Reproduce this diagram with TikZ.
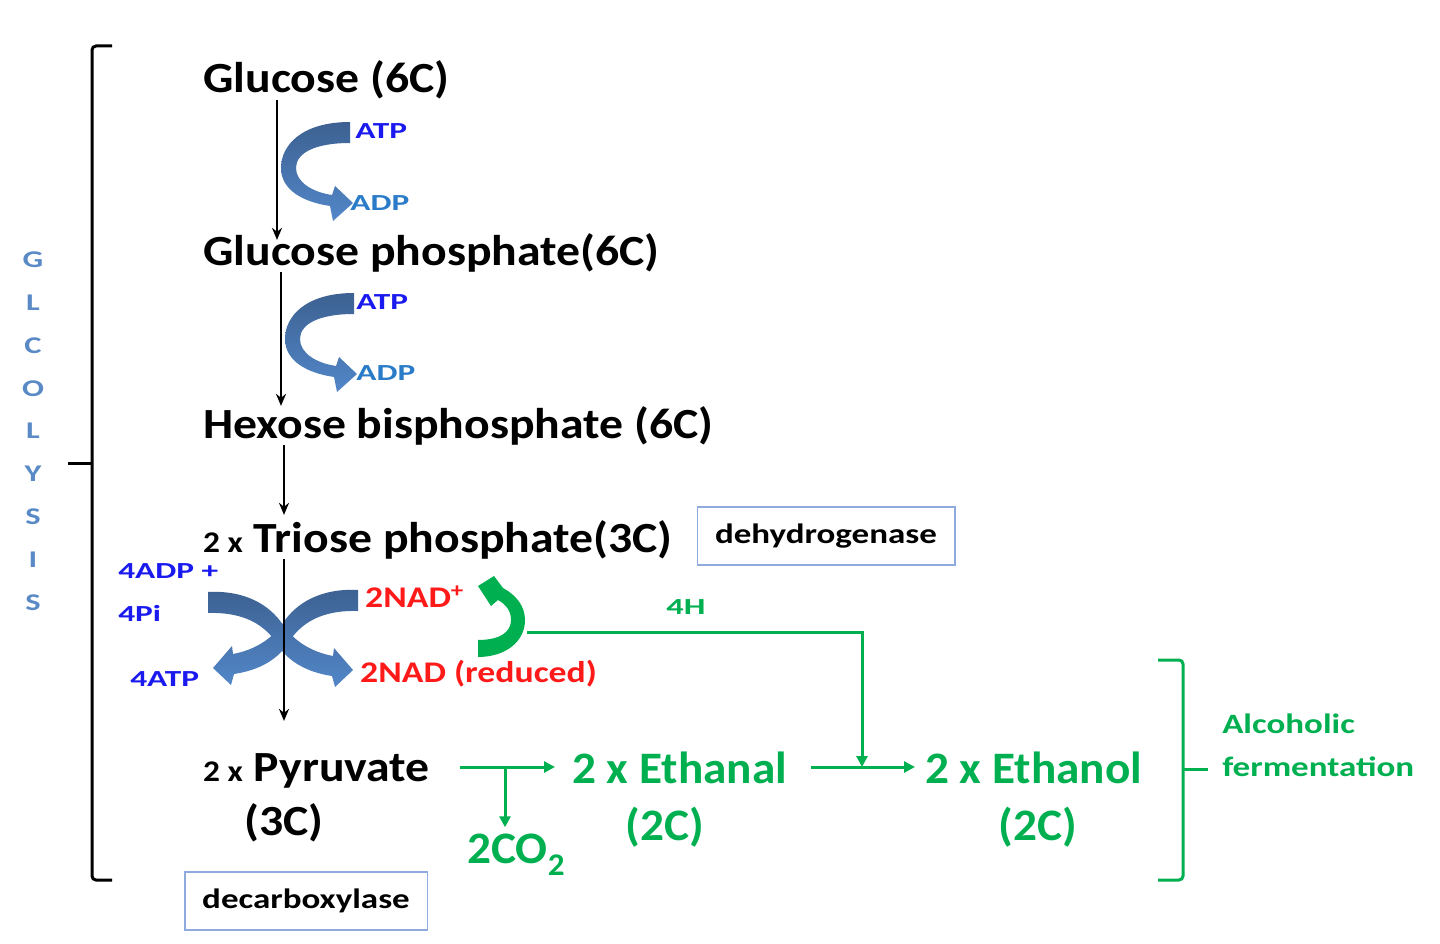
\documentclass[tikz,border=0pt]{standalone}
\usepackage{fontspec}
\setmainfont{Carlito}
\usetikzlibrary{arrows.meta}
\definecolor{atpblue}{HTML}{1A1AEF}
\definecolor{adpblue}{HTML}{2A7CC8}
\definecolor{glyblue}{HTML}{5A8AC6}
\definecolor{banddark}{HTML}{3D6191}
\definecolor{bandlight}{HTML}{5287C9}
\definecolor{fgreen}{HTML}{00B050}
\definecolor{nadred}{HTML}{FF1A1A}
\definecolor{boxblue}{HTML}{8FAADC}
\newcommand\twox{\fontsize{30}{30}\selectfont}
\tikzset{
  mainlbl/.style={font=\fontsize{43}{50}\selectfont\bfseries, inner sep=0pt, xscale=1.11},
  greenlbl/.style={font=\fontsize{45}{50}\selectfont\bfseries, text=fgreen, inner sep=0pt, xscale=1.05},
  atplbl/.style={font=\fontsize{23}{26}\selectfont\bfseries, inner sep=0pt, xscale=1.45},
  redlbl/.style={font=\fontsize{30}{34}\selectfont\bfseries, text=nadred, inner sep=0pt, xscale=1.19},
  smalllbl/.style={font=\fontsize{28}{32}\selectfont\bfseries, inner sep=0pt, xscale=1.25},
  glylbl/.style={font=\fontsize{24}{28}\selectfont\bfseries, text=glyblue, inner sep=0pt, xscale=1.35},
  enzbox/.style={smalllbl, draw=boxblue, line width=1.5pt},
  flow/.style={line width=2.2pt, -{Stealth[length=12pt,width=10pt]}},
  garrow/.style={fgreen, line width=3pt, -{Triangle[length=11pt,width=11pt]}},
}
\begin{document}
\begin{tikzpicture}[x=1pt,y=-1pt]
\useasboundingbox (0,0) rectangle (1440,944);
% glycolysis bracket
\draw[line width=3pt, rounded corners=4pt] (112,46) -- (92,46) -- (92,880) -- (112,880);
\draw[line width=3pt] (92,463) -- (68,463);
\foreach \l [count=\i] in {G,L,C,O,L,Y,S,I,S}
  \node[glylbl] (gly\i) at (33,{260+42.8*(\i-1)}) {\l};
% fermentation bracket
\draw[fgreen, line width=3pt, rounded corners=4pt] (1158,660) -- (1183,660) -- (1183,880) -- (1158,880);
\draw[fgreen, line width=3pt] (1183,769) -- (1208,769);
\node[smalllbl, text=fgreen, anchor=base west] (alc) at (1222,733) {Alcoholic};
\node[smalllbl, text=fgreen, anchor=base west] (ferm) at (1222,776) {fermentation};

\node[mainlbl, anchor=base west] (glucose) at (203,93) {Glucose (6C)};
\node[mainlbl, anchor=base west] (glucoseP) at (203,265) {Glucose phosphate(6C)};
\node[mainlbl, anchor=base west] (hexose) at (203,438) {Hexose bisphosphate (6C)};
\node[mainlbl, anchor=base west] (triose) at (203,552) {{\twox 2 x} Triose phosphate(3C)};
\node[mainlbl, anchor=base west] (pyruvate) at (203,781) {{\twox 2 x} Pyruvate};
\node[mainlbl] (pyrC) at (284,823) {(3C)};
\node[greenlbl, anchor=base west] (ethanal) at (572,783) {2 x Ethanal};
\node[greenlbl] (ethanalC) at (665,827) {(2C)};
\node[greenlbl, anchor=base west] (ethanol) at (925,783) {2 x Ethanol};
\node[greenlbl] (ethanolC) at (1038,827) {(2C)};
\node[greenlbl, anchor=base west] (co2) at (467,863) {2CO\textsubscript{2}};

\node[enzbox, minimum width=206pt, minimum height=58pt] (dehydro) at (826,536) {dehydrogenase};
\node[enzbox, minimum width=194pt, minimum height=58pt] (decarb) at (306,901) {decarboxylase};

% ATP -> ADP
\shade[top color=banddark, bottom color=bandlight] (350,122) .. controls (302,122) and (281,145) .. (281,168) .. controls (281,190) and (303,202) .. (330,206) -- (333,221) -- (353,203) -- (335,186) -- (332,195) .. controls (312,192) and (296,182) .. (296,168) .. controls (296,153) and (315,143) .. (350,143) -- cycle;
\begin{scope}[shift={(4,171)}]
\shade[top color=banddark, bottom color=bandlight] (350,122) .. controls (302,122) and (281,145) .. (281,168) .. controls (281,190) and (303,202) .. (330,206) -- (333,221) -- (353,203) -- (335,186) -- (332,195) .. controls (312,192) and (296,182) .. (296,168) .. controls (296,153) and (315,143) .. (350,143) -- cycle;
\end{scope}
\node[atplbl, text=atpblue, anchor=west] (atp1) at (355,131) {ATP};
\node[atplbl, text=adpblue, anchor=west] (adp1) at (350,203) {ADP};
\node[atplbl, text=atpblue, anchor=west] (atp2) at (356,302) {ATP};
\node[atplbl, text=adpblue, anchor=west] (adp2) at (356,373) {ADP};

% crossing arrows
\shade[top color=banddark, bottom color=bandlight] (208,592) .. controls (245,590) and (270,605) .. (283,625) .. controls (295,642) and (312,652) .. (333,656) -- (334,648) -- (353,670) -- (335,687) -- (332,676) .. controls (305,672) and (287,660) .. (278,645) .. controls (265,625) and (245,612) .. (208,613) -- cycle;
\begin{scope}[shift={(566,-2)}, xscale=-1]
\shade[top color=banddark, bottom color=bandlight] (208,592) .. controls (245,590) and (270,605) .. (283,625) .. controls (295,642) and (312,652) .. (333,656) -- (334,648) -- (353,670) -- (335,687) -- (332,676) .. controls (305,672) and (287,660) .. (278,645) .. controls (265,625) and (245,612) .. (208,613) -- cycle;
\end{scope}
\node[atplbl, text=atpblue, anchor=west] (adpIn) at (118,571) {4ADP +};
\node[atplbl, text=atpblue, anchor=west] (piIn) at (118,613) {4Pi};
\node[atplbl, text=atpblue, anchor=west] (atpOut) at (130,679) {4ATP};
\node[redlbl, anchor=base west] (nadOx) at (365,607) {2NAD\textsuperscript{+}};
\node[redlbl, anchor=base west] (nadRed) at (360,682) {2NAD (reduced)};

% NAD loop
\fill[fgreen] (478,640) .. controls (500,640) and (511,632) .. (511,620) .. controls (511,610) and (505,604) .. (498,600) -- (491,606) -- (478,586) -- (494,576) -- (503,588) .. controls (516,595) and (525,606) .. (525,620) .. controls (525,642) and (505,657) .. (478,657) -- cycle;
\coordinate (loopend) at (527,632);
\node[atplbl, text=fgreen, xscale=1.03] (hfour) at (686,607) {4H};

\coordinate (axisA) at (277,0);
\coordinate (axisB) at (281,0);
\coordinate (axisC) at (284,0);
\draw[flow, shorten >=-7pt] (glucose.south -| axisA) -- (glucoseP.north -| axisA);
\draw[flow] (glucoseP.south -| axisB) -- (hexose.north -| axisB);
\draw[flow, shorten >=5pt] (hexose.south -| axisC) -- (triose.north -| axisC);
\draw[flow, shorten >=32pt] (triose.south -| axisC) -- (pyruvate.north -| axisC);

\coordinate (co2fork) at (505,767);
\coordinate (hjoin) at (862,767);
\draw[garrow, shorten <=30pt, shorten >=17pt] (pyruvate.east |- co2fork) -- (ethanal.west |- co2fork);
\draw[garrow, shorten >=6pt] (co2fork) -- (co2fork |- co2.north);
\draw[garrow, shorten <=24pt, shorten >=10pt] (ethanal.east |- hjoin) -- (ethanol.west |- hjoin);
\draw[garrow] (loopend) -| (hjoin);
\end{tikzpicture}
\end{document}
